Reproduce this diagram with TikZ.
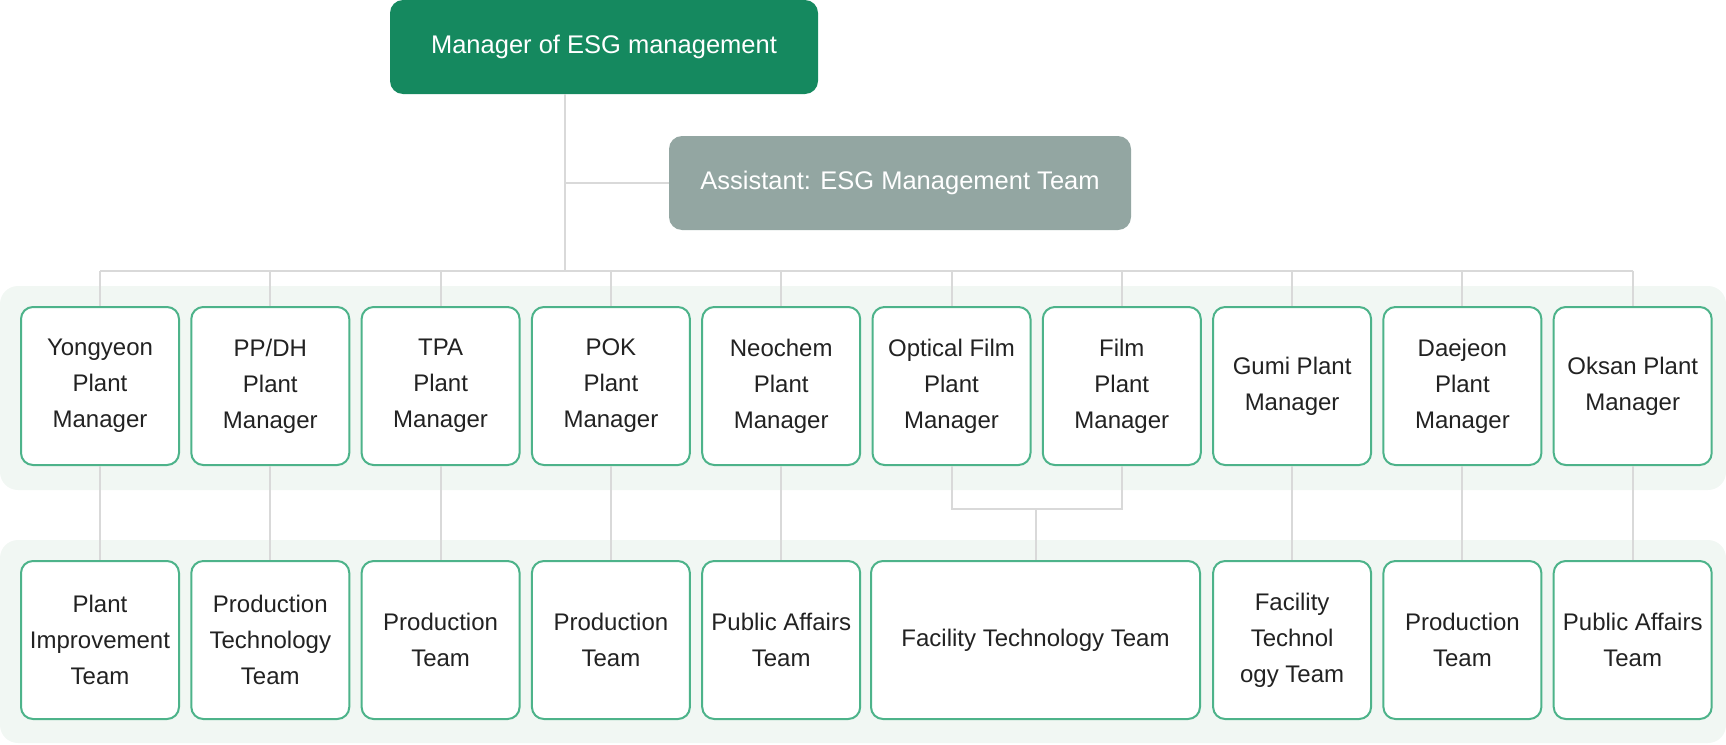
\documentclass[tikz,border=0pt]{standalone}
\usepackage{fontspec}
\setmainfont{Liberation Sans}
\definecolor{esggreen}{HTML}{15895F}
\definecolor{esggray}{HTML}{93A6A2}
\definecolor{boxline}{HTML}{4DB38A}
\definecolor{bandfill}{HTML}{F1F7F3}
\definecolor{linkgray}{HTML}{D9D9D9}
\definecolor{txtdark}{HTML}{222222}
\tikzset{
  headbox/.style={rounded corners=13pt, minimum height=94pt, inner sep=0pt, text=white, font=\fontsize{25.5}{36}\selectfont},
  unitbox/.style={draw=boxline, line width=2pt, fill=white, rounded corners=12pt, minimum width=158pt, minimum height=158pt, inner sep=0pt, align=center, text=txtdark, font=\fontsize{24}{36}\selectfont},
  link/.style={draw=linkgray, line width=2pt}
}
\begin{document}
\begin{tikzpicture}[x=1pt,y=-1pt]
\useasboundingbox (0,0) rectangle (1726,744);
\fill[bandfill, rounded corners=18pt] (0,286) rectangle (1726,490);
\fill[bandfill, rounded corners=18pt] (0,540) rectangle (1726,743);
\node[headbox, fill=esggreen, minimum width=428pt] (head) at (604,47) {Manager of ESG management};
\node[headbox, fill=esggray, minimum width=462pt] (asst) at (900,183) {Assistant: ESG Management Team};
% plant managers
\foreach \txt [count=\i] in {{Yongyeon\\Plant\\Manager},{PP/DH\\Plant\\Manager},{TPA\\Plant\\Manager},{POK\\Plant\\Manager},{Neochem\\Plant\\Manager},{Optical Film\\Plant\\Manager},{Film\\Plant\\Manager},{Gumi Plant\\Manager},{Daejeon\\Plant\\Manager},{Oksan Plant\\Manager}}
  \node[unitbox] (p\i) at ({100+170.3*(\i-1)},386) {\txt};
% teams
\foreach \txt/\i in {{Plant\\Improvement\\Team}/1,{Production\\Technology\\Team}/2,{Production\\Team}/3,{Production\\Team}/4,{Public Affairs\\Team}/5,{Facility\\Technol\\ogy Team}/8,{Production\\Team}/9,{Public Affairs\\Team}/10}
  \node[unitbox] (t\i) at ({100+170.3*(\i-1)},640) {\txt};
\node[unitbox, minimum width=329pt] (ft) at (1035.5,640) {Facility Technology Team};
% connectors
\coordinate (hub) at (565,271);
\draw[link] (head.south -| hub) -- (hub);
\draw[link] (asst.west) -- (asst.west -| hub);
\draw[link] (p1.north |- hub) -- (p10.north |- hub);
\foreach \i in {1,...,10}
  \draw[link] (p\i.north) -- (p\i.north |- hub);
\foreach \i in {1,2,3,4,5,8,9,10}
  \draw[link] (p\i.south) -- (t\i.north);
\path (ft.north) ++(0,-51) coordinate (join);
\draw[link] (p6.south) |- (join) -| (p7.south);
\draw[link] (join) -- (ft.north);
\end{tikzpicture}
\end{document}
